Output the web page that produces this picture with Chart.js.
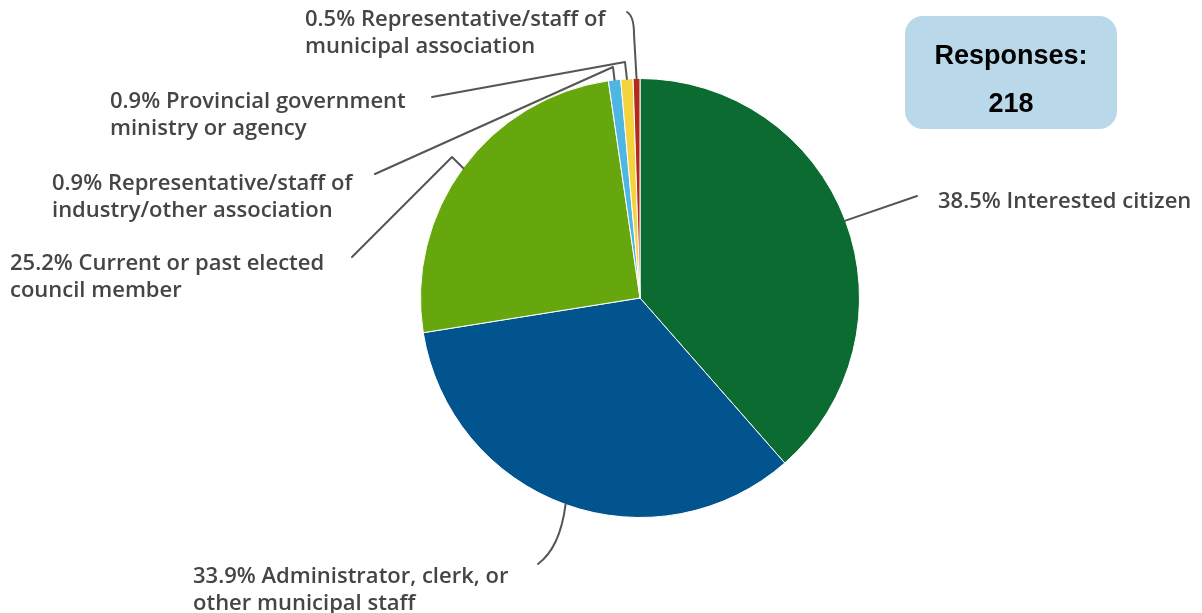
<!DOCTYPE html>
<html>
<head>
<meta charset="utf-8">
<script src="https://cdn.jsdelivr.net/npm/chart.js@4/dist/chart.umd.min.js"></script>
<style>
  body { margin: 0; background: #fff; }
  #wrap { position: relative; width: 1202px; height: 613px; overflow: hidden; }
  #pie { position: absolute; left: 0; top: 0; }
  .lbl {
    position: absolute;
    font-family: "Open Sans", "Noto Sans", sans-serif;
    font-size: 22px;
    font-weight: 600;
    line-height: 27px;
    color: #454545;
    white-space: nowrap;
  }
  .responses {
    position: absolute;
    left: 905px; top: 16px; width: 212px; height: 113px;
    background: #b9d9ea;
    border-radius: 18px;
    font-family: "Liberation Sans", Arial, sans-serif;
    font-weight: bold;
    font-size: 27px;
    line-height: 30px;
    color: #000;
    text-align: center;
  }
  .responses div { position: absolute; left: 0; right: 0; }
</style>
</head>
<body>
<div id="wrap">
  <canvas id="pie" width="1202" height="613"></canvas>
  <div class="responses">
    <div style="top: 24px">Responses:</div>
    <div style="top: 72px" id="resp-count"></div>
  </div>
</div>
<script>
const categories = [
  ["Interested citizen"],
  ["Administrator, clerk, or", "other municipal staff"],
  ["Current or past elected", "council member"],
  ["Representative/staff of", "industry/other association"],
  ["Provincial government", "ministry or agency"],
  ["Representative/staff of", "municipal association"],
];
const shares = [38.5, 33.9, 25.2, 0.9, 0.9, 0.5];
const responses = 218;

const COLORS = ["#0b6b30", "#02548f", "#67a70e", "#4db6e2", "#f5d33f", "#b3291c"];

// label boxes (left, top) and the leader path from the slice edge to the label
const LABEL_POS = [
  [938, 186],
  [193, 561],
  [10, 248],
  [52, 168],
  [110, 86],
  [305, 4],
];
const LEADERS = [
  { via: [], end: [917, 196] },
  { curve: [560, 548], end: [538, 564] },
  { via: [[452, 157]], end: [352, 257] },
  { via: [[613, 67]], end: [375, 174] },
  { via: [[625, 62]], end: [432, 97] },
  { via: [[634, 34]], curve: [634, 16], end: [627, 12] },
];

const wrap = document.getElementById("wrap");
categories.forEach((lines, i) => {
  const div = document.createElement("div");
  div.className = "lbl";
  div.style.left = LABEL_POS[i][0] + "px";
  div.style.top = LABEL_POS[i][1] + "px";
  div.innerHTML = lines.map((l, j) => (j === 0 ? `${shares[i].toFixed(1)}% ${l}` : l)).join("<br>");
  wrap.appendChild(div);
});
document.getElementById("resp-count").textContent = responses;

const leaderLines = {
  id: "leaderLines",
  afterDatasetsDraw(chart) {
    const ctx = chart.ctx;
    const arcs = chart.getDatasetMeta(0).data;
    ctx.save();
    ctx.strokeStyle = "#555";
    ctx.lineWidth = 2;
    ctx.lineJoin = "round";
    ctx.lineCap = "round";
    arcs.forEach((arc, i) => {
      const p = arc.getProps(["x", "y", "startAngle", "endAngle", "outerRadius"], true);
      const mid = (p.startAngle + p.endAngle) / 2;
      const sx = p.x + Math.cos(mid) * p.outerRadius;
      const sy = p.y + Math.sin(mid) * p.outerRadius;
      const l = LEADERS[i];
      ctx.beginPath();
      ctx.moveTo(sx, sy);
      (l.via || []).forEach(([x, y]) => ctx.lineTo(x, y));
      if (l.curve) ctx.quadraticCurveTo(l.curve[0], l.curve[1], l.end[0], l.end[1]);
      else ctx.lineTo(l.end[0], l.end[1]);
      ctx.stroke();
    });
    ctx.restore();
  },
};

new Chart(document.getElementById("pie"), {
  type: "pie",
  data: {
    labels: categories.map((c) => c.join(" ")),
    datasets: [
      {
        data: shares,
        backgroundColor: COLORS,
        borderColor: "#ffffff",
        borderWidth: 1,
      },
    ],
  },
  options: {
    responsive: false,
    animation: false,
    layout: { padding: { left: 420, right: 342, top: 78, bottom: 95 } },
    plugins: { legend: { display: false }, tooltip: { enabled: false } },
  },
  plugins: [leaderLines],
});
</script>
</body>
</html>
